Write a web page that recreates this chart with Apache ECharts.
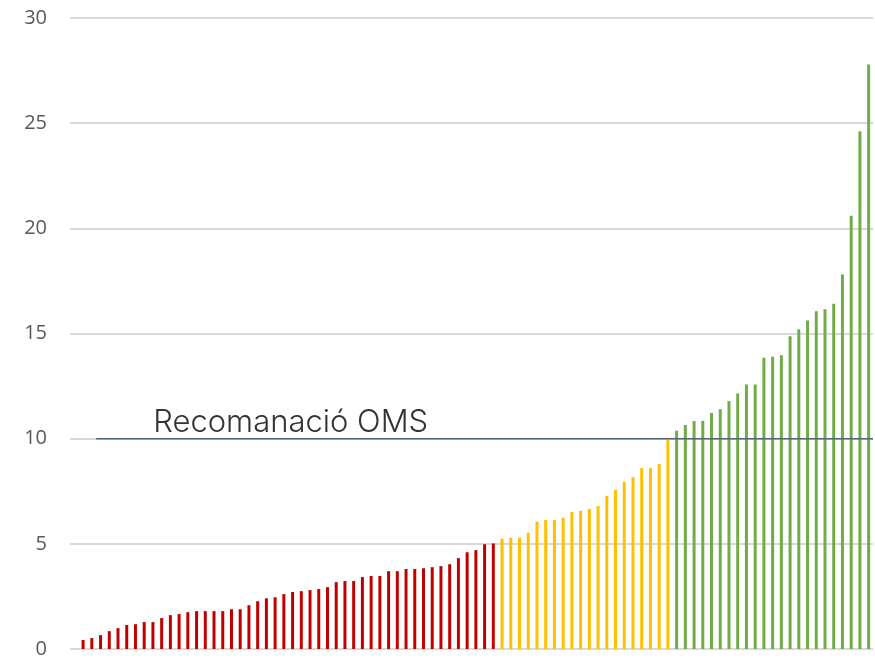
<!DOCTYPE html>
<html>
<head>
<meta charset="utf-8">
<script src="https://cdn.jsdelivr.net/npm/echarts@6/dist/echarts.min.js"></script>
<style>
  html, body { margin: 0; padding: 0; background: #fff; }
  #chart { width: 875px; height: 659px; }
</style>
</head>
<body>
<div id="chart"></div>
<script>
// valors ordenats (primera categoria buida)
var redValues = [
  0.43, 0.52, 0.66, 0.85, 0.99, 1.14, 1.18, 1.28, 1.28, 1.47, 1.61, 1.66,
  1.75, 1.80, 1.80, 1.80, 1.80, 1.89, 1.89, 2.08, 2.27, 2.41, 2.46, 2.61,
  2.71, 2.75, 2.80, 2.85, 2.94, 3.18, 3.23, 3.23, 3.42, 3.47, 3.47, 3.70,
  3.70, 3.80, 3.80, 3.84, 3.89, 3.94, 4.03, 4.32, 4.60, 4.70, 4.98, 5.02
];
var yellowValues = [
  5.24, 5.29, 5.29, 5.53, 6.05, 6.14, 6.14, 6.24, 6.52, 6.57, 6.66, 6.80,
  7.28, 7.56, 7.94, 8.17, 8.60, 8.60, 8.79, 9.97
];
var greenValues = [
  10.38, 10.65, 10.84, 10.84, 11.22, 11.40, 11.79, 12.15, 12.58, 12.58,
  13.85, 13.89, 13.96, 14.87, 15.20, 15.62, 16.06, 16.15, 16.41, 17.81,
  20.60, 24.62, 27.79
];
var yTicks = [0, 5, 10, 15, 20, 25, 30];
var omsValue = 10;
var omsLabel = 'Recomanació OMS';
var omsStart = 3; // on comença la línia (en categories)

var red = '#C00000', yellow = '#FFC000', green = '#70AD47';

(function () {
  var allValues = [null].concat(redValues, yellowValues, greenValues);
  var categories = allValues.map(function (v, i) { return String(i); });
  var nCat = categories.length;
  var barData = allValues.map(function (v, i) {
    if (v === null) return null;
    var c = i <= redValues.length ? red
      : (i <= redValues.length + yellowValues.length ? yellow : green);
    return { value: v, itemStyle: { color: c } };
  });

  var chart = echarts.init(document.getElementById('chart'), null, { renderer: 'canvas' });
  chart.setOption({
    animation: false,
    grid: { left: 70, right: 2, top: 18, bottom: 6 },
    xAxis: [{
      type: 'category',
      data: categories,
      axisLine: { show: false },
      axisTick: { show: false },
      axisLabel: { show: false }
    }, {
      type: 'value',
      min: 0,
      max: nCat,
      show: false
    }],
    yAxis: {
      type: 'value',
      min: yTicks[0],
      max: yTicks[yTicks.length - 1],
      interval: 5,
      axisLine: { show: false },
      axisTick: { show: false },
      axisLabel: {
        color: '#595959',
        fontFamily: 'Open Sans',
        fontSize: 20,
        margin: 23
      },
      splitLine: { lineStyle: { color: '#D9D9D9', width: 2 } }
    },
    series: [{
      type: 'bar',
      xAxisIndex: 0,
      data: barData,
      barWidth: 3
    }, {
      type: 'line',
      xAxisIndex: 1,
      symbol: 'circle',
      symbolSize: 0,
      showSymbol: true,
      lineStyle: { color: '#56657A', width: 1.5 },
      label: { show: false },
      data: [
        {
          value: [omsStart, omsValue],
          label: {
            show: true,
            formatter: omsLabel,
            position: 'top',
            align: 'left',
            offset: [57, 5],
            color: '#333333',
            fontFamily: 'Inter',
            fontWeight: 300,
            fontSize: 31
          }
        },
        [nCat, omsValue]
      ]
    }]
  });
})();
</script>
</body>
</html>
